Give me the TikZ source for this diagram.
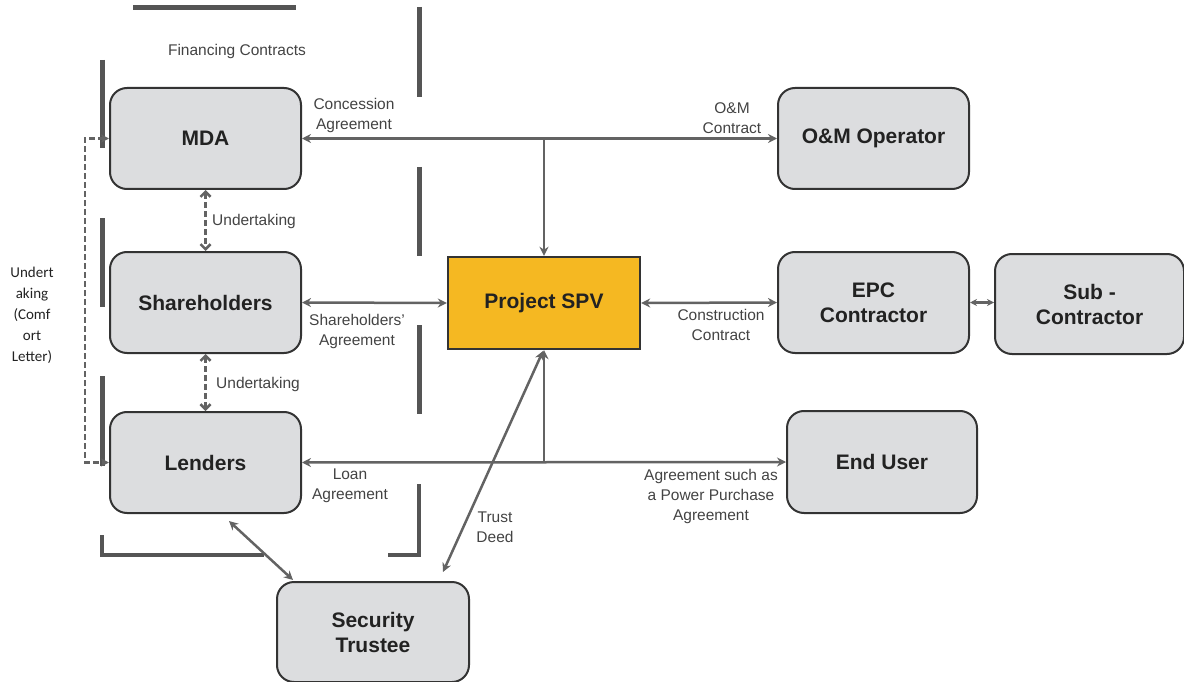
\documentclass[tikz,border=0pt]{standalone}
\usepackage{fontspec}
\setmainfont{Liberation Sans}
\newfontfamily\carl{Carlito}
\usetikzlibrary{arrows.meta,calc}
\definecolor{boxfill}{HTML}{DCDDDF}
\definecolor{boxline}{HTML}{333333}
\definecolor{connc}{HTML}{636363}
\definecolor{barc}{HTML}{555555}
\definecolor{spvc}{HTML}{F5B822}
\definecolor{txtc}{HTML}{222222}
\begin{document}
\begin{tikzpicture}[x=1pt,y=-1pt,
  box/.style={draw=boxline,line width=2pt,fill=boxfill,rounded corners=17pt,
    inner sep=0pt,align=center,text=txtc,font=\fontsize{21}{25}\selectfont\bfseries},
  spvbox/.style={draw=boxline,line width=2.4pt,fill=spvc,inner sep=0pt,
    text=txtc,font=\fontsize{21}{25}\selectfont\bfseries},
  lbl/.style={inner sep=0pt,align=center,text=txtc!85!white,font=\fontsize{15.5}{20}\selectfont},
  conn/.style={draw=connc,line width=2.5pt,arrows={-Stealth[length=9pt,width=9pt]}},
  conn2/.style={draw=connc,line width=2.5pt,arrows={Stealth[length=9pt,width=9pt]-Stealth[length=9pt,width=9pt]}},
  dconn/.style={draw=connc,line width=2.6pt,dash pattern=on 6pt off 3pt,
    arrows={Straight Barb[length=5pt,width=10pt,line width=2.6pt]-Straight Barb[length=5pt,width=10pt,line width=2.6pt]}},
  barline/.style={draw=barc,line width=5pt},
  thinbar/.style={draw=barc,line width=3.5pt}]
\useasboundingbox (0,0) rectangle (1184,682);

% boxes
\node[box,minimum width=191pt,minimum height=101pt] (mda) at (205.5,138.5) {MDA};
\node[box,minimum width=191pt,minimum height=101pt] (sh) at (205.5,302.5) {Shareholders};
\node[box,minimum width=191pt,minimum height=101pt] (len) at (205.5,462.5) {Lenders};
\node[box,minimum width=192pt,minimum height=100pt] (st) at (373,632) {Security\\Trustee};
\node[spvbox,minimum width=192pt,minimum height=92pt] (spv) at (544,303) {Project SPV};
\node[box,minimum width=191pt,minimum height=101pt] (om) at (873.5,138.5) {O\&M Operator};
\node[box,minimum width=191pt,minimum height=101pt] (epc) at (873.5,302.5) {EPC\\Contractor};
\node[box,minimum width=189pt,minimum height=100pt] (sub) at (1089.5,304) {Sub -\\Contractor};
\node[box,minimum width=190pt,minimum height=102pt] (eu) at (882,462) {End User};

% decorative bars
\draw[barline] (133,8) -- (296,8);
\draw[barline] (419,7) -- (419,97);
\draw[barline] (419,167) -- (419,256);
\draw[barline] (419,325) -- (419,414);
\draw[thinbar] (419,484) -- (419,555) -- (388,555);
\draw[barline] (102,60) -- (102,148);
\draw[barline] (102,218) -- (102,307);
\draw[barline] (102,376) -- (102,466);
\draw[thinbar] (102,535) -- (102,555) -- (264,555);

% connectors
\coordinate (j1) at (spv.north |- mda.east);
\coordinate (j2) at (spv.south |- len.east);
\draw[conn2] (mda.east) -- (om.west);
\draw[conn] (j1) -- (spv.north);
\draw[conn2] (sh.east) -- (spv.west);
\draw[conn2] (spv.east) -- (epc.west);
\draw[draw=connc,line width=2.5pt,arrows={Stealth[length=7pt,width=7pt]-Stealth[length=7pt,width=7pt]}] (epc.east) -- (sub.west |- epc.east);
\draw[conn] (j2) -- (spv.south);
\draw[conn2] (len.east) -- (eu.west);
\coordinate (tdA) at (443,572);
\coordinate (tdB) at (543,351);
\draw[conn2] (tdA) -- (tdB);
\coordinate (lsA) at (229,521);
\coordinate (lsB) at (293,580);
\draw[conn2] (lsA) -- (lsB);
\draw[dconn] (mda.south) -- (sh.north);
\draw[dconn] (sh.south) -- (len.north);
\draw[draw=connc,line width=2.6pt,dash pattern=on 6pt off 3pt,
  arrows={Stealth[length=8pt,width=8pt]-Stealth[length=8pt,width=8pt]}]
  (mda.west) -- ++(-24,0) |- (len.west);

% labels
\node[lbl] (lfin) at (237,51) {Financing Contracts};
\node[lbl] (lcon) at (354,115) {Concession\\Agreement};
\node[lbl] (lom) at (732,118) {O\&M\\Contract};
\node[lbl,anchor=west] (lu1) at (212,221) {Undertaking};
\node[lbl,anchor=west] (lu2) at (216,384) {Undertaking};
\node[lbl] (lsha) at (357,331) {Shareholders'\\Agreement};
\node[lbl] (lcc) at (721,325) {Construction\\Contract};
\node[lbl] (lloan) at (350,486) {Loan\\Agreement};
\node[lbl] (lppa) at (711,496) {Agreement such as\\a Power Purchase\\Agreement};
\node[lbl] (ltd) at (495,527) {Trust\\Deed};
\node[inner sep=0pt,align=center,text=txtc,font=\carl\fontsize{15}{21}\selectfont] (lcl) at (32,315) {Undert\\aking\\(Comf\\ort\\Letter)};
\end{tikzpicture}
\end{document}
